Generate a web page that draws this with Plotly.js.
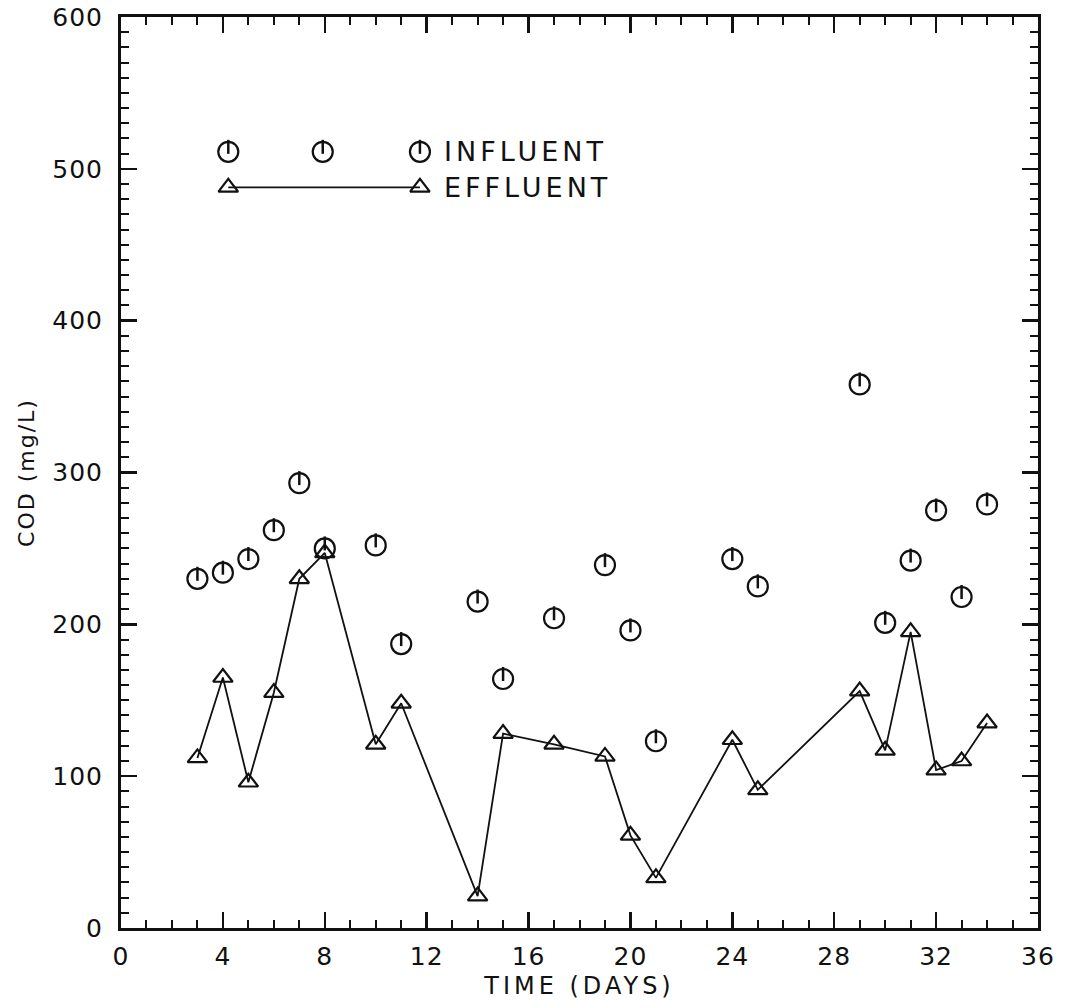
<!DOCTYPE html>
<html>
<head>
<meta charset="utf-8">
<script src="https://cdn.plot.ly/plotly-3.0.1.min.js"></script>
<style>
  html, body { margin: 0; padding: 0; background: #fff; }
  #chart { width: 1065px; height: 1008px; }
  .xtitle { letter-spacing: 4px; }
  .ytitle { letter-spacing: 2px; }
  .annotation-text { letter-spacing: 4px; }
  .xtick text, .ytick text { letter-spacing: 1px; }
</style>
</head>
<body>
<div id="chart"></div>
<script>
// ---- Data ----
const influentDays = [3, 4, 5, 6, 7, 8, 10, 11, 14, 15, 17, 19, 20, 21, 24, 25, 29, 30, 31, 32, 33, 34];
const influentCOD  = [230, 234, 243, 262, 293, 250, 252, 187, 215, 164, 204, 239, 196, 123, 243, 225, 358, 201, 242, 275, 218, 279];

const effluentDays = [3, 4, 5, 6, 7, 8, 10, 11, 14, 15, 17, 19, 20, 21, 24, 25, 29, 30, 31, 32, 33, 34];
const effluentCOD  = [112, 165, 96, 155, 230, 247, 121, 148, 21, 128, 121, 113, 61, 33, 124, 91, 156, 117, 195, 104, 110, 135];

const xTickVals = [0, 4, 8, 12, 16, 20, 24, 28, 32, 36];
const yTickVals = [0, 100, 200, 300, 400, 500, 600];
const seriesNames = ["INFLUENT", "EFFLUENT"];

// ---- Styling / layout constants ----
const W = 1065, H = 1008;
const M = {l: 121, r: 27, t: 17, b: 80};
const plotH = H - M.t - M.b;
const yRange = [0, 600];
const circleSize = 20;
const tickMarkPx = 5;            // vertical stroke inside the circle, offset upward
const tickOffset = tickMarkPx * (yRange[1] - yRange[0]) / plotH;

// legend key placement (paper fractions on an overlay axis)
const keyCircleX = [0.117, 0.220, 0.326];
const keyCircleY = 0.852;
const keyTriX = [0.117, 0.326];
const keyTriY = 0.813;
const keyTextX = 0.350;

const black = '#111';
const fontFam = '"DejaVu Sans", "Liberation Sans", sans-serif';

const traces = [
  { // influent circles
    x: influentDays, y: influentCOD, mode: 'markers', type: 'scatter',
    marker: {symbol: 'circle-open', size: circleSize, color: black, line: {width: 2.2, color: black}},
    showlegend: false, hoverinfo: 'skip'
  },
  { // stroke inside each influent circle
    x: influentDays, y: influentCOD.map(v => v + tickOffset), mode: 'markers', type: 'scatter',
    marker: {symbol: 'line-ns-open', size: 10, color: black, line: {width: 2.5, color: black}},
    showlegend: false, hoverinfo: 'skip'
  },
  { // effluent
    x: effluentDays, y: effluentCOD, mode: 'lines+markers', type: 'scatter',
    line: {color: black, width: 1.8},
    marker: {symbol: 'triangle-up-open', size: 17, color: black, line: {width: 2.2, color: black}},
    showlegend: false, hoverinfo: 'skip'
  },
  // legend key
  {
    x: keyCircleX, y: keyCircleX.map(() => keyCircleY), xaxis: 'x2', yaxis: 'y2',
    mode: 'markers', type: 'scatter',
    marker: {symbol: 'circle-open', size: circleSize, color: black, line: {width: 2.2, color: black}},
    showlegend: false, hoverinfo: 'skip'
  },
  {
    x: keyCircleX, y: keyCircleX.map(() => keyCircleY + tickMarkPx / plotH), xaxis: 'x2', yaxis: 'y2',
    mode: 'markers', type: 'scatter',
    marker: {symbol: 'line-ns-open', size: 10, color: black, line: {width: 2.5, color: black}},
    showlegend: false, hoverinfo: 'skip'
  },
  {
    x: keyTriX, y: keyTriX.map(() => keyTriY), xaxis: 'x2', yaxis: 'y2',
    mode: 'lines+markers', type: 'scatter',
    line: {color: black, width: 1.8},
    marker: {symbol: 'triangle-up-open', size: 17, color: black, line: {width: 2.2, color: black}},
    showlegend: false, hoverinfo: 'skip'
  }
];

const axisCommon = {
  showgrid: false, zeroline: false,
  showline: true, linecolor: black, linewidth: 3,
  mirror: 'allticks',
  ticks: 'inside', ticklen: 16, tickwidth: 2.5, tickcolor: black,
  tickfont: {family: fontFam, size: 25, color: black},
};

const layout = {
  width: W, height: H,
  margin: M,
  paper_bgcolor: '#fff', plot_bgcolor: '#fff',
  showlegend: false,
  xaxis: Object.assign({}, axisCommon, {
    range: [0, 36], tickmode: 'array', tickvals: xTickVals, ticktext: xTickVals.map(String),
    ticklabelstandoff: 4,
    minor: {dtick: 1, tick0: 0, ticks: 'inside', ticklen: 8, tickwidth: 2, tickcolor: black},
    title: {text: 'TIME (DAYS)', font: {family: fontFam, size: 24, color: black}, standoff: 8}
  }),
  yaxis: Object.assign({}, axisCommon, {
    range: yRange, tickmode: 'array', tickvals: yTickVals, ticktext: yTickVals.map(String),
    ticklabelstandoff: 10,
    minor: {dtick: 10, tick0: 0, ticks: 'inside', ticklen: 8, tickwidth: 2, tickcolor: black},
    title: {text: 'COD (mg/L)', font: {family: fontFam, size: 22, color: black}, standoff: 12}
  }),
  xaxis2: {overlaying: 'x', range: [0, 1], visible: false, fixedrange: true},
  yaxis2: {overlaying: 'y', range: [0, 1], visible: false, fixedrange: true},
  annotations: [
    {xref: 'x2', yref: 'y2', x: keyTextX, y: keyCircleY, text: seriesNames[0], showarrow: false,
     xanchor: 'left', yanchor: 'middle', font: {family: fontFam, size: 27, color: black}},
    {xref: 'x2', yref: 'y2', x: keyTextX, y: keyTriY, text: seriesNames[1], showarrow: false,
     xanchor: 'left', yanchor: 'middle', font: {family: fontFam, size: 27, color: black}}
  ]
};

Plotly.newPlot('chart', traces, layout, {staticPlot: true, displayModeBar: false});
</script>
</body>
</html>
